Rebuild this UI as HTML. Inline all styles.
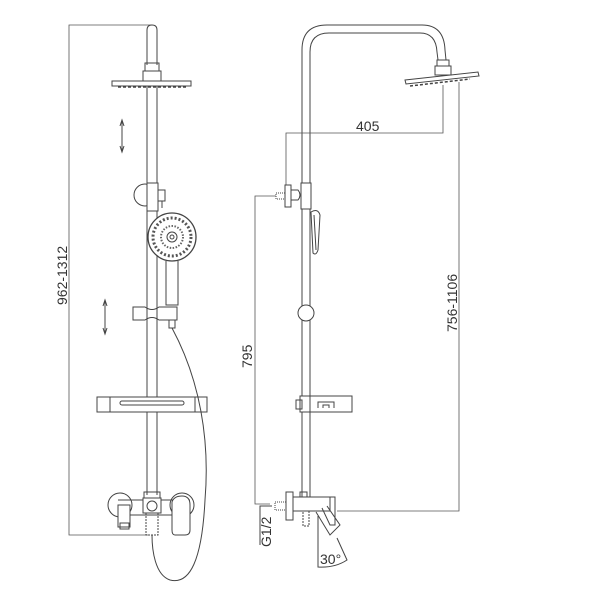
<!DOCTYPE html>
<html><head><meta charset="utf-8"><style>
html,body{margin:0;padding:0;background:#fff;width:600px;height:600px;overflow:hidden}
svg{display:block}
text{font-family:"Liberation Sans",sans-serif;fill:#333}
</style></head><body>
<svg width="600" height="600" viewBox="0 0 600 600" xmlns="http://www.w3.org/2000/svg" fill="none" stroke="#444" stroke-width="1">
<!-- LEFT VIEW -->
<polyline points="152,25 69,25 69,535 150,535" stroke="#555" stroke-width="0.8"/>
<text x="0" y="0" font-size="14" transform="translate(67,305) rotate(-90)" stroke="none">962-1312</text>
<path d="M147,65 L147,30 Q147,25 152,25 Q157,25 157,30 L157,65"/>
<rect x="145" y="63" width="14" height="8"/>
<rect x="143" y="71" width="18" height="10"/>
<rect x="112" y="81" width="79" height="5"/>
<line x1="118" y1="87" x2="186" y2="87" stroke-dasharray="3,2" stroke-width="1.5"/>
<line x1="147" y1="86" x2="147" y2="495"/>
<line x1="157" y1="86" x2="157" y2="495"/>
<g stroke-width="1"><line x1="122" y1="120" x2="122" y2="152"/><path d="M120,126 L122,120 L124,126 M120,146 L122,152 L124,146"/>
<line x1="105" y1="300" x2="105" y2="334"/><path d="M103,306 L105,300 L107,306 M103,328 L105,334 L107,328"/></g>
<circle cx="145" cy="195" r="11"/>
<rect x="147" y="183" width="11" height="28" fill="#fff"/>
<path d="M158,190 L165,190 L165,201 L158,201 M162,201 L162,208"/>
<circle cx="172" cy="237" r="24" fill="#fff" stroke-width="1.3"/>
<circle cx="172" cy="237" r="19" stroke-dasharray="2,2" stroke-width="3" stroke="#555"/>
<circle cx="172" cy="237" r="11" stroke-dasharray="1.5,1.5" stroke-width="2" stroke="#666"/>
<circle cx="172" cy="237" r="5"/>
<circle cx="172" cy="237" r="2"/>
<path d="M166,261 L166,305 L178,305 L178,261"/>
<path d="M133,307 L145,307 Q152,312 159,307 L177,307 L177,320 L159,320 Q152,315 145,320 L133,320 Z" fill="#fff"/>
<line x1="147" y1="307" x2="147" y2="320"/><line x1="157" y1="307" x2="157" y2="320"/>
<rect x="169" y="320" width="6" height="8"/>
<rect x="97" y="397" width="110" height="15" fill="#fff"/>
<line x1="110" y1="397" x2="110" y2="412"/><line x1="195" y1="397" x2="195" y2="412"/>
<rect x="120" y="401" width="64" height="4" rx="2"/>
<line x1="147" y1="412" x2="147" y2="495"/><line x1="157" y1="412" x2="157" y2="495"/>
<path d="M172,328 C200,380 210,440 205,500 C202,560 190,585 170,580 C155,575 152,550 152,535"/>
<circle cx="120" cy="505" r="12" fill="#fff"/>
<circle cx="182" cy="505" r="12" fill="#fff"/>
<path d="M118,500 L190,500 M125,515 L172,515"/>
<rect x="118" y="505" width="12" height="22" fill="#fff"/>
<rect x="120" y="523" width="9" height="6"/>
<rect x="144" y="492" width="16" height="6"/>
<path d="M143,498 L161,498 L161,513 L143,513 Z" fill="#fff"/>
<circle cx="152" cy="506" r="5"/>
<rect x="146" y="513" width="12" height="22" stroke-dasharray="2,1"/>
<path d="M172,502 Q174,496 182,496 Q190,496 190,505 L190,530 Q190,535 185,535 L175,535 Q172,535 172,530 Z" fill="#fff"/>
<!-- RIGHT VIEW -->
<path d="M302,510 L302,50 Q302,25 327,25 L422,25 Q444,25 445,50 L446,60"/>
<path d="M310,510 L310,52 Q310,33 329,33 L420,33 Q436,33 437,52 L438,60"/>
<rect x="437" y="60" width="12" height="6"/>
<rect x="435" y="66" width="16" height="9"/>
<path d="M405,80 L478,72 L479,76 L406,84 Z"/>
<line x1="410" y1="86" x2="470" y2="79" stroke-dasharray="3,2" stroke-width="1.5"/>
<polyline points="286,190 286,133 443,133 443,85" stroke="#555" stroke-width="0.8"/>
<text x="356" y="131" font-size="14" stroke="none">405</text>
<rect x="285" y="185" width="6" height="22" fill="#fff"/>
<path d="M291,190 L298,190 Q302,195 298,200 L291,200"/>
<rect x="301" y="183" width="10" height="26" fill="#fff"/>
<rect x="276" y="193" width="9" height="6" stroke-dasharray="1,1"/>
<polyline points="276,196 255,196 255,504 270,504" stroke="#555" stroke-width="0.8"/>
<text x="0" y="0" font-size="14" transform="translate(252,368) rotate(-90)" stroke="none">795</text>
<path d="M311,212 Q318,208 320,215 L318,250 Q316,256 313,253 Z"/>
<line x1="314" y1="215" x2="316" y2="250"/>
<circle cx="306" cy="313" r="8" fill="#fff"/>
<rect x="300" y="396" width="10" height="16" fill="#fff"/>
<rect x="296" y="400" width="6" height="9"/>
<rect x="310" y="396" width="42" height="16" fill="#fff"/>
<path d="M318,408 L318,402 L334,402 L334,408 M323,408 L323,405 L329,405 L329,408"/>
<rect x="286" y="492" width="7" height="28" fill="#fff"/>
<rect x="275" y="502" width="11" height="8" stroke-dasharray="1,1"/>
<path d="M272,506 L260,506 L260,545"/>
<text x="0" y="0" font-size="14" transform="translate(271,547) rotate(-90)" stroke="none">G1/2</text>
<rect x="300" y="492" width="7" height="5"/>
<rect x="293" y="497" width="37" height="14" fill="#fff"/>
<rect x="303" y="511" width="6" height="15" stroke-dasharray="2,1"/>
<path d="M320,497 L335,497 L335,525 L330,525 L322,508"/>
<path d="M316,512 L330,535 L340,525 L327,506"/>
<path d="M318,516 L318,567 Q335,568 347,560 L337,538"/>
<text x="320" y="564" font-size="14" stroke="none">30°</text>
<polyline points="459,82 459,511 337,511" stroke="#555" stroke-width="0.8"/>
<text x="0" y="0" font-size="14" transform="translate(457,332) rotate(-90)" stroke="none">756-1106</text>
</svg>
</body></html>
